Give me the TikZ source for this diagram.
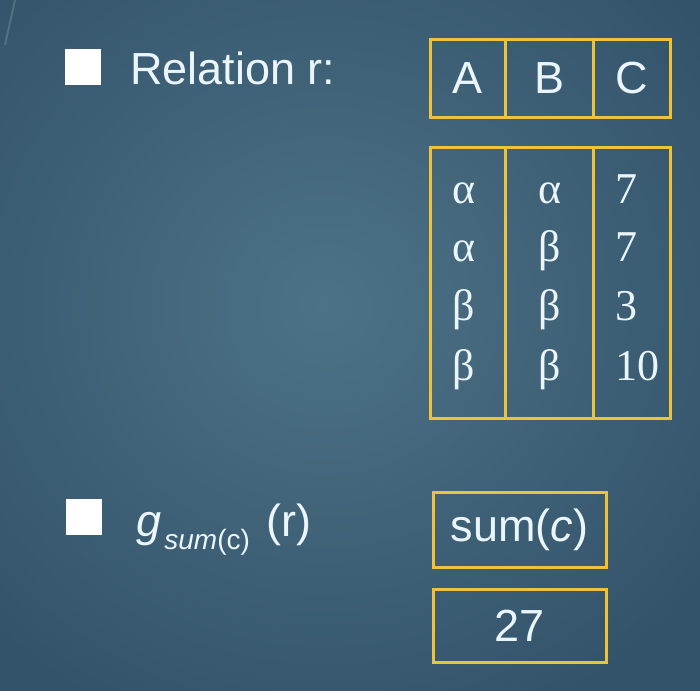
\documentclass[tikz,border=0pt]{standalone}
\usepackage{fontspec}
\setmainfont{Liberation Sans}
\newfontfamily\serifgr{Liberation Serif}
\definecolor{bgdark}{HTML}{33536A}
\definecolor{bglight}{HTML}{4D7286}
\definecolor{gold}{HTML}{EEC23C}
\definecolor{txt}{HTML}{EAF5FC}
\tikzset{
  cell/.style={draw=gold, line width=1.5pt, rectangle, inner sep=0pt, minimum width=#1},
  hdr/.style={text=txt, font=\fontsize{22.5}{27}\selectfont},
  val/.style={text=txt, font=\serifgr\fontsize{22}{26}\selectfont, inner sep=0pt},
  lbl/.style={text=txt, font=\fontsize{22.5}{27}\selectfont, inner sep=0pt},
  bullet/.style={fill=white, rectangle, inner sep=0pt, minimum width=18pt, minimum height=18pt},
}
\begin{document}
\begin{tikzpicture}[x=0.5pt,y=-0.5pt]
\useasboundingbox (0,0) rectangle (700,690);
\shade[inner color=bglight, outer color=bgdark] (-150,-150) rectangle (800,760);
\draw[white, opacity=0.15, line width=1pt] (5,45) -- (15,0);
% bullets and labels
\node[bullet] (b1) at (83,67) {};
\node[lbl, anchor=base west] (t1) at (130,84) {Relation r:};
\node[bullet] (b2) at (84,517) {};
\node[lbl, anchor=base west] (t2) at (136,536) {\textit{g}\kern1.5pt\raisebox{-6.5pt}{\fontsize{14}{16}\selectfont\textit{sum}(c)}\kern2pt\ (r)};
% header table
\node[cell=37.5pt, minimum height=38.5pt, hdr] (hA) at (467.5,78.5) {A};
\node[cell=44pt, minimum height=38.5pt, hdr] (hB) at (549,78.5) {B};
\node[cell=38.5pt, minimum height=38.5pt, hdr] (hC) at (631.5,78.5) {C};
% data table
\node[cell=37.5pt, minimum height=135.5pt] (dA) at (467.5,282.5) {};
\node[cell=44pt, minimum height=135.5pt] (dB) at (549,282.5) {};
\node[cell=38.5pt, minimum height=135.5pt] (dC) at (631.5,282.5) {};
% values
\node[val, anchor=base] (a1) at (464,203) {α};
\node[val, anchor=base] (a2) at (464,261) {α};
\node[val, anchor=base] (a3) at (464,320) {β};
\node[val, anchor=base] (a4) at (464,380) {β};
\node[val, anchor=base] (bb1) at (550,203) {α};
\node[val, anchor=base] (bb2) at (550,261) {β};
\node[val, anchor=base] (bb3) at (550,320) {β};
\node[val, anchor=base] (bb4) at (550,380) {β};
\node[val, anchor=base west] (c1) at (615,203) {7};
\node[val, anchor=base west] (c2) at (615,261) {7};
\node[val, anchor=base west] (c3) at (615,320) {3};
\node[val, anchor=base west] (c4) at (615,380) {10};
% result
\node[cell=86.5pt, minimum height=37.5pt, hdr] (s) at (519.5,530) {sum(\textit{c})};
\node[cell=86.5pt, minimum height=36.5pt, hdr] (r) at (519.5,625.5) {27};
\end{tikzpicture}
\end{document}
